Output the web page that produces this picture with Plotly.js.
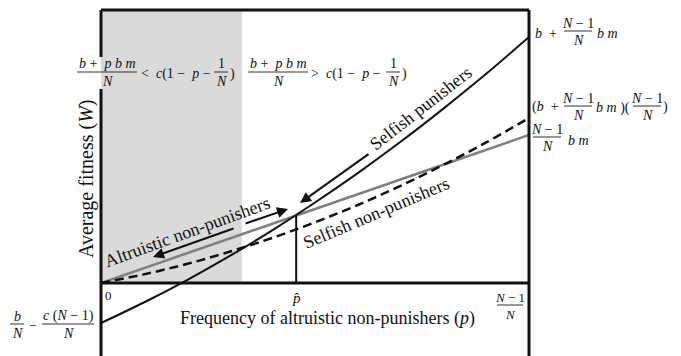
<!DOCTYPE html>
<html>
<head>
<meta charset="utf-8">
<script src="https://cdn.plot.ly/plotly-3.0.1.min.js"></script>
<style>html,body{margin:0;padding:0;background:#fff;}#chart{width:681px;height:356px;}</style>
</head>
<body>
<div id="chart"></div>
<script>
// ---- data (x = frequency p scaled so (N-1)/N = 1) ----
const pSamples = [0, 0.1, 0.2, 0.3, 0.4, 0.5, 0.6, 0.7, 0.8, 0.9, 1.0];
const selfishPunishers = [-0.40, -0.195, 0.027, 0.268, 0.527, 0.805, 1.099, 1.412, 1.744, 2.092, 2.46];
const selfishNonPunishers = [0, 0.086, 0.190, 0.312, 0.451, 0.607, 0.780, 0.972, 1.181, 1.406, 1.65];
const altruisticP = [0, 1];
const altruisticNonPunishers = [0, 1.48];
const pHat = 0.456;
const wHat = 0.68;
const grayRegionEnd = 0.329;

// ---- layout helpers (pixel placement of decorations) ----
const L = 101, R = 529, T = 10, B = 356;
const FONT = 'Liberation Serif, Times New Roman, serif';
const px = v => (v - L) / (R - L);
const py = v => (B - v) / (B - T);
const anns = [], shapes = [];
function txt(x, y, text, size, anchor, angle) {
  anns.push({xref:'paper', yref:'paper', x:px(x), y:py(y), text:text, showarrow:false,
    xanchor:anchor||'center', yanchor:'middle', textangle:angle||0,
    font:{family:FONT, size:size, color:'#111'}});
}
function frac(cx, barY, halfW, num, den, size) {
  txt(cx, barY - 8, num, size);
  txt(cx, barY + 9, den, size);
  shapes.push({type:'line', xref:'paper', yref:'paper', x0:px(cx-halfW), x1:px(cx+halfW), y0:py(barY), y1:py(barY),
    line:{color:'#333', width:1}});
}
function arrow(hx, hy, tx, ty) {
  anns.push({xref:'paper', yref:'paper', x:px(hx), y:py(hy), ax:tx-hx, ay:ty-hy, text:'',
    showarrow:true, arrowhead:2, arrowsize:1.1, arrowwidth:2, arrowcolor:'#111'});
}
const I = s => '<i>' + s + '</i>';

// inequality labels
frac(107, 72, 30, I('b') + ' +  ' + I('p b m'), I('N'), 14);
txt(139, 74, '<  ' + I('c') + '(1 −  ' + I('p') + ' −', 14, 'left');
frac(221, 72, 7, '1', I('N'), 14);
txt(228, 74, ')', 14, 'left');
frac(278, 72, 30, I('b') + ' +  ' + I('p b m'), I('N'), 14);
txt(309, 74, '>  ' + I('c') + '(1 −  ' + I('p') + ' −', 14, 'left');
frac(393, 72, 7, '1', I('N'), 14);
txt(400, 74, ')', 14, 'left');

// right side value labels
txt(533, 33, I('b') + '  +', 14, 'left');
frac(578, 31, 14, I('N') + ' − 1', I('N'), 14);
txt(595, 34, I('b m'), 14, 'left');
txt(530, 107, '(' + I('b') + '  +', 14, 'left');
frac(578, 106, 14, I('N') + ' − 1', I('N'), 14);
txt(594, 108, I('b m') + ' )(', 14, 'left');
frac(647, 106, 14, I('N') + ' − 1', I('N'), 14);
txt(661, 107, ')', 14, 'left');
frac(547, 137, 14, I('N') + ' − 1', I('N'), 14);
txt(566, 140, I('b m'), 14, 'left');

// bottom labels
frac(17, 324, 7, I('b'), I('N'), 14);
txt(33, 325, '−', 14);
frac(68, 324, 26, I('c') + ' (' + I('N') + ' − 1)', I('N'), 14);
txt(108, 295, '0', 13);
txt(296, 298, I('p̂'), 15);
frac(510, 305, 13, I('N') + ' − 1', I('N'), 13);

// titles
txt(327, 318, 'Frequency of altruistic non-punishers (' + I('p') + ')', 18);
txt(86, 179, 'Average fitness (' + I('W') + ')', 20, 'center', -90);

// line labels
txt(187, 232, 'Altruistic non-punishers', 18, 'center', -20);
txt(421, 108, 'Selfish punishers', 18, 'center', -38);
txt(376, 213, 'Selfish non-punishers', 18, 'center', -23);

// arrows
arrow(153, 257, 235, 228);
arrow(288, 209, 244, 224);
arrow(300, 203, 370, 153);

// gray region, frame and baseline
shapes.unshift({type:'rect', xref:'x', yref:'y', x0:0, x1:grayRegionEnd, y0:0, y1:2.73, fillcolor:'#dadada', line:{width:0}, layer:'below'});
shapes.push({type:'line', xref:'paper', yref:'paper', x0:0, x1:1, y0:1, y1:1, line:{color:'#111', width:3}});
shapes.push({type:'line', xref:'paper', yref:'paper', x0:0, x1:0, y0:py(10), y1:py(57), line:{color:'#111', width:3}});
shapes.push({type:'line', xref:'paper', yref:'paper', x0:0, x1:0, y0:py(89), y1:0, line:{color:'#111', width:3}});
shapes.push({type:'line', xref:'paper', yref:'paper', x0:1, x1:1, y0:0, y1:1, line:{color:'#111', width:3}});
shapes.push({type:'line', xref:'paper', yref:'y', x0:0, x1:1, y0:0, y1:0, line:{color:'#111', width:3}});

const traces = [
  {x:altruisticP, y:altruisticNonPunishers, mode:'lines', line:{color:'#7f7f7f', width:2.5}, hoverinfo:'skip'},
  {x:pSamples, y:selfishNonPunishers, mode:'lines', line:{color:'#111', width:2.5, dash:'9px,5px', shape:'spline'}, hoverinfo:'skip'},
  {x:pSamples, y:selfishPunishers, mode:'lines', line:{color:'#111', width:2, shape:'spline'}, hoverinfo:'skip'},
  {x:[pHat, pHat], y:[0, wHat], mode:'lines', line:{color:'#111', width:2}, hoverinfo:'skip'}
];

const layout = {
  width:681, height:356, margin:{l:L, r:681-R, t:T, b:0},
  paper_bgcolor:'#fff', plot_bgcolor:'rgba(0,0,0,0)', showlegend:false,
  xaxis:{range:[0,1], visible:false, fixedrange:true},
  yaxis:{range:[-0.73, 2.73], visible:false, fixedrange:true},
  shapes:shapes, annotations:anns
};
Plotly.newPlot('chart', traces, layout, {staticPlot:true, displayModeBar:false});
</script>
</body>
</html>
